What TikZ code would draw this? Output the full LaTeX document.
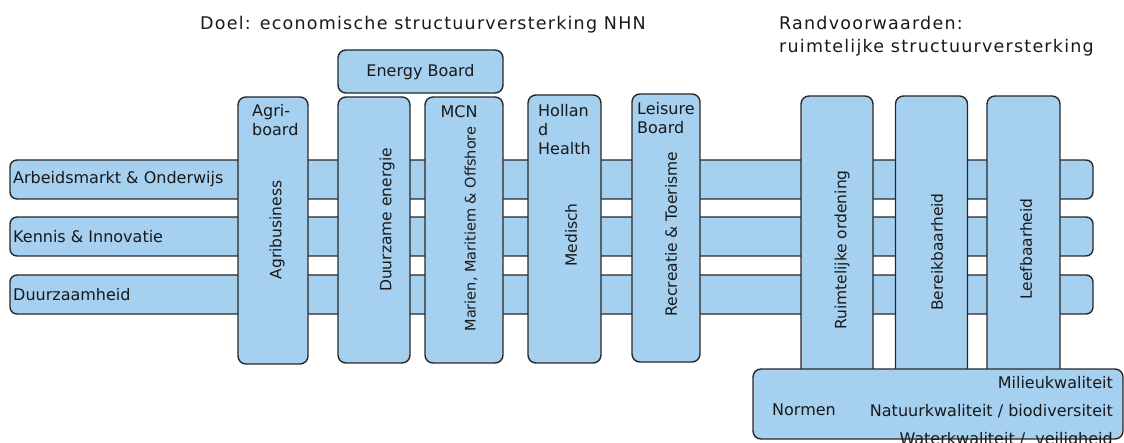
\documentclass[tikz,border=0pt]{standalone}
\usepackage{fontspec}
\setmainfont{DejaVu Sans}
\definecolor{boxfill}{RGB}{166,208,240}
\definecolor{boxline}{RGB}{40,40,40}
\tikzset{
  shape box/.style={draw=boxline, fill=boxfill, line width=1.4pt, rounded corners=8pt, inner sep=0pt},
  barbox/.style={shape box, rounded corners=7pt},
  lbl/.style={font=\fontsize{16}{19}\selectfont, inner sep=0pt, text=black!90},
  vlbl/.style={lbl, font=\fontsize{15.5}{19}\selectfont, rotate=90},
  ttl/.style={font=\fontsize{17.5}{23}\selectfont\addfontfeature{LetterSpace=7}, inner sep=0pt, text=black!90}
}
\begin{document}
\begin{tikzpicture}[x=1pt,y=-1pt]
\useasboundingbox (0,0) rectangle (1124,443);
% horizontal bars
\node[barbox, minimum width=1083pt, minimum height=39pt] (b1) at (551.5,179.5) {};
\node[barbox, minimum width=1083pt, minimum height=39pt] (b2) at (551.5,236.5) {};
\node[barbox, minimum width=1083pt, minimum height=39pt] (b3) at (551.5,294.5) {};
\node[lbl, anchor=west] (t1) at (13,179.5) {Arbeidsmarkt \& Onderwijs};
\node[lbl, anchor=west] (t2) at (13,236.5) {Kennis \& Innovatie};
\node[lbl, anchor=west] (t3) at (13,294.5) {Duurzaamheid};
% columns
\node[shape box, minimum width=70pt, minimum height=267pt] (agri) at (273,230.5) {};
\node[shape box, minimum width=72pt, minimum height=266pt] (duur) at (374,230) {};
\node[shape box, minimum width=78pt, minimum height=266pt] (mcn) at (464,230) {};
\node[shape box, minimum width=73pt, minimum height=268pt] (holl) at (564.5,229) {};
\node[shape box, minimum width=68pt, minimum height=268pt] (leis) at (666,228) {};
\node[shape box, minimum width=72pt, minimum height=284pt] (ruim) at (837,238) {};
\node[shape box, minimum width=72pt, minimum height=284pt] (bere) at (931.5,238) {};
\node[shape box, minimum width=73pt, minimum height=284pt] (leef) at (1023.5,238) {};
\node[shape box, minimum width=165pt, minimum height=43pt] (energy) at (420.5,71.5) {};
\node[shape box, minimum width=370pt, minimum height=70pt] (normen) at (938,404) {};
% column texts
\node[lbl] (energyt) at (420.5,72) {Energy Board};
\node[lbl, anchor=north west, align=left] (agrih) at (252,104) {Agri-\\board};
\node[vlbl] (agrit) at (277,230) {Agribusiness};
\node[vlbl] (duurt) at (387,220) {Duurzame energie};
\node[lbl] (mcnh) at (459,112) {MCN};
\node[vlbl, font=\fontsize{14.5}{19}\selectfont] (mcnt) at (471,229) {Marien, Maritiem \& Offshore};
\node[lbl, anchor=north west, align=left] (hollh) at (538,104) {Hollan\\d\\Health};
\node[vlbl] (hollt) at (571,235) {Medisch};
\node[lbl, anchor=north west, align=left] (leish) at (637,102) {Leisure\\Board};
\node[vlbl] (leist) at (671,234) {Recreatie \& Toerisme};
\node[vlbl] (ruimt) at (842,250) {Ruimtelijke ordening};
\node[vlbl] (beret) at (937,252) {Bereikbaarheid};
\node[vlbl] (leeft) at (1026,249) {Leefbaarheid};
% normen texts
\node[lbl, anchor=west] (normt) at (772,410) {Normen};
\node[lbl, anchor=east] (n1) at (1113,383) {Milieukwaliteit};
\node[lbl, anchor=east] (n2) at (1113,411) {Natuurkwaliteit / biodiversiteit};
\node[lbl, anchor=east] (n3) at (1113,440) {Waterkwaliteit /\ \ veiligheid};
% titles
\node[ttl, anchor=west] (doel) at (200,25) {Doel: economische structuurversterking NHN};
\node[ttl, anchor=north west, align=left] (rand) at (779,16) {Randvoorwaarden:\\ruimtelijke structuurversterking};
\end{tikzpicture}
\end{document}
